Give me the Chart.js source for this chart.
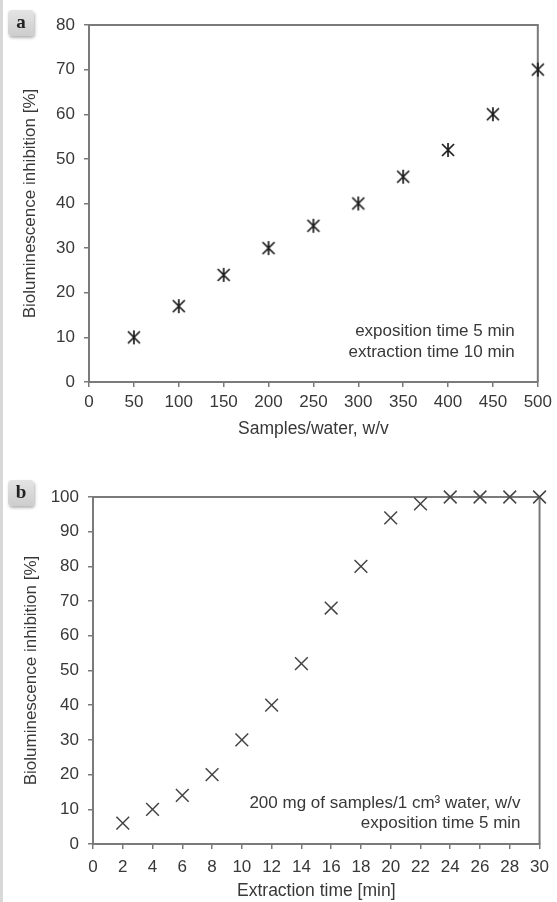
<!DOCTYPE html>
<html>
<head>
<meta charset="utf-8">
<title>Bioluminescence inhibition</title>
<script src="https://cdn.jsdelivr.net/npm/chart.js@4.4.0/dist/chart.umd.min.js"></script>
<style>
    html, body { margin: 0; padding: 0; background: #fff; }
    #page { position: relative; width: 557px; height: 902px; overflow: hidden; }
    .edge { position: absolute; left: 0; top: 0; width: 3px; height: 902px; background: #d8d8d8; }
    .panel { position: absolute; left: 0; width: 557px; }
    #panelA { top: 0; height: 450px; }
    #panelB { top: 450px; height: 452px; }
    .tag {
        position: absolute; left: 8px; width: 26px; height: 26px;
        border-radius: 4px;
        background: linear-gradient(#e4e4e4, #cdcdcd);
        box-shadow: 1px 2px 3px rgba(0, 0, 0, 0.3);
        font: bold 19px "Liberation Serif", "DejaVu Serif", serif;
        color: #222; text-align: center; line-height: 23px;
    }
    #tagA { top: 10px; }
    #tagB { top: 480px; }
</style>
</head>
<body>
<div id="page">
    <div class="edge"></div>
    <div class="panel" id="panelA"><canvas id="chartA" width="557" height="450"></canvas></div>
    <div class="panel" id="panelB"><canvas id="chartB" width="557" height="452"></canvas></div>
    <div class="tag" id="tagA">a</div>
    <div class="tag" id="tagB">b</div>
</div>
<script>
// panel a: sample/water ratio
var samplesWater = [50, 100, 150, 200, 250, 300, 350, 400, 450, 500];
var inhibitionA = [10, 17, 24, 30, 35, 40, 46, 52, 60, 70];
var xTicksA = [0, 500, 50];   // min, max, step
var yTicksA = [0, 80, 10];
var notesA = ['exposition time 5 min', 'extraction time 10 min'];

// panel b: extraction time
var extractionTime = [2, 4, 6, 8, 10, 12, 14, 16, 18, 20, 22, 24, 26, 28, 30];
var inhibitionB = [6, 10, 14, 20, 30, 40, 52, 68, 80, 94, 98, 100, 100, 100, 100];
var xTicksB = [0, 30, 2];
var yTicksB = [0, 100, 10];
var notesB = ['200 mg of samples/1 cm\u00B3 water, w/v', 'exposition time 5 min'];

document.addEventListener('DOMContentLoaded', function () {
    var FONT = "'Liberation Sans', Arial, sans-serif";
    var AXIS = '#7a7a7a';
    var TEXT = '#383838';

    // excel style asterisk: X with a vertical stroke
    function starMarker() {
        var c = document.createElement('canvas');
        c.width = 16;
        c.height = 16;
        var g = c.getContext('2d');
        g.strokeStyle = '#1c1c1c';
        g.lineWidth = 1.7;
        g.beginPath();
        g.moveTo(2, 2); g.lineTo(14, 14);
        g.moveTo(14, 2); g.lineTo(2, 14);
        g.moveTo(8, 1); g.lineTo(8, 15);
        g.stroke();
        return c;
    }

    function toPoints(xs, ys) {
        return xs.map(function (x, i) { return { x: x, y: ys[i] }; });
    }

    function framePlugin() {
        return {
            id: 'frame',
            beforeDatasetsDraw: function (chart) {
                var a = chart.chartArea;
                var ctx = chart.ctx;
                ctx.save();
                ctx.strokeStyle = AXIS;
                ctx.lineWidth = 2;
                ctx.beginPath();
                ctx.moveTo(a.left, a.top);
                ctx.lineTo(a.right, a.top);
                ctx.lineTo(a.right, a.bottom);
                ctx.stroke();
                ctx.restore();
            }
        };
    }

    function notesPlugin(lines, dx, dy, gap) {
        return {
            id: 'notes',
            afterDraw: function (chart) {
                var a = chart.chartArea;
                var ctx = chart.ctx;
                ctx.save();
                ctx.font = '17px ' + FONT;
                ctx.fillStyle = TEXT;
                ctx.textAlign = 'right';
                ctx.textBaseline = 'middle';
                lines.forEach(function (t, i) {
                    ctx.fillText(t, a.right - dx, a.bottom - dy + i * gap);
                });
                ctx.restore();
            }
        };
    }

    function makeChart(el, cfg) {
        return new Chart(el, {
            type: 'scatter',
            data: {
                datasets: [
                    {
                        data: toPoints(cfg.xs, cfg.ys),
                        pointStyle: cfg.pointStyle,
                        pointRadius: cfg.radius,
                        borderColor: cfg.color,
                        backgroundColor: cfg.color,
                        borderWidth: 1.5,
                        clip: false
                    }
                ]
            },
            options: {
                responsive: false,
                devicePixelRatio: 1,
                animation: false,
                events: [],
                layout: { padding: cfg.padding },
                plugins: {
                    legend: { display: false },
                    tooltip: { enabled: false }
                },
                scales: {
                    x: {
                        type: 'linear',
                        min: cfg.xTicks[0],
                        max: cfg.xTicks[1],
                        afterFit: function (s) { s.height = cfg.xHeight; },
                        border: { color: AXIS, width: 2 },
                        grid: { drawOnChartArea: false, drawTicks: true, tickLength: 5, color: AXIS, lineWidth: 1.5 },
                        ticks: { stepSize: cfg.xTicks[2], padding: cfg.xPad, color: TEXT, font: { family: FONT, size: 17 }, maxRotation: 0, autoSkip: false },
                        title: { display: true, text: cfg.xTitle, color: TEXT, font: { family: FONT, size: 17.5 }, padding: 0 }
                    },
                    y: {
                        type: 'linear',
                        min: cfg.yTicks[0],
                        max: cfg.yTicks[1],
                        afterFit: function (s) { s.width = cfg.yWidth; },
                        border: { color: AXIS, width: 2 },
                        grid: { drawOnChartArea: false, drawTicks: true, tickLength: 5, color: AXIS, lineWidth: 1.5 },
                        ticks: { stepSize: cfg.yTicks[2], padding: 9, color: TEXT, font: { family: FONT, size: 17 } },
                        title: { display: true, text: 'Bioluminescence inhibition [%]', color: TEXT, font: { family: FONT, size: 17 }, padding: 0 }
                    }
                }
            },
            plugins: [framePlugin(), cfg.notes]
        });
    }

    makeChart(document.getElementById('chartA'), {
        xs: samplesWater,
        ys: inhibitionA,
        xTicks: xTicksA,
        yTicks: yTicksA,
        pointStyle: starMarker(),
        radius: 7,
        color: '#1c1c1c',
        padding: { top: 25, right: 16, left: 20, bottom: 10 },
        xHeight: 58,
        yWidth: 69,
        xPad: 5,
        xTitle: 'Samples/water, w/v',
        notes: notesPlugin(notesA, 23, 51, 21)
    });

    makeChart(document.getElementById('chartB'), {
        xs: extractionTime,
        ys: inhibitionB,
        xTicks: xTicksB,
        yTicks: yTicksB,
        pointStyle: 'crossRot',
        radius: 9,
        color: '#444',
        padding: { top: 47, right: 12, left: 21, bottom: 0 },
        xHeight: 58,
        yWidth: 72,
        xPad: 8,
        xTitle: 'Extraction time [min]',
        notes: notesPlugin(notesB, 19, 41, 20)
    });
});
</script>
</body>
</html>
